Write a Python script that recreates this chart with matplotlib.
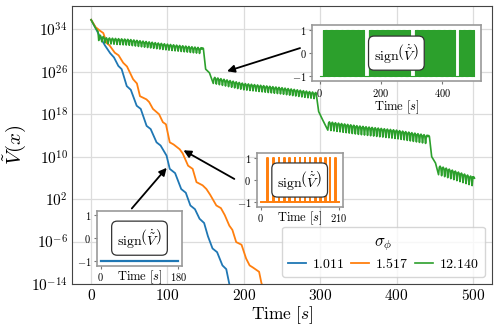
import numpy as np
import matplotlib
matplotlib.use("Agg")
import matplotlib.pyplot as plt
from matplotlib import ticker

plt.rcParams["mathtext.fontset"] = "cm"
plt.rcParams["font.family"] = "serif"

# --- data (log10 of V~) ---
blue_t = [0, 6, 12, 18, 25, 30, 35.7, 40, 46.7, 52, 59.7, 65, 72.7, 78, 85.7, 91,
          98.8, 103, 110, 118, 124, 130, 136, 142, 148, 153, 159, 165, 172, 177, 181, 184]
blue_logv = [35.8, 34.2, 32.5, 31.0, 29.5, 28.7, 27.1, 26.5, 23.3, 22.6, 19.6, 19.0, 15.8, 15.2, 12.7, 12.1,
             10.2, 7.7, 6.9, 3.9, 3.2, 0.8, 0.1, -1.7, -2.5, -5.0, -7.3, -8.0, -10.5, -11.2, -14.0, -15.0]

orange_t = [0, 6, 12, 16, 20.5, 24, 31, 36, 42, 47, 55, 60, 64, 72.5, 76, 81, 89, 94, 98,
            103, 108, 116, 120, 127, 133, 138, 146, 151, 156, 164, 170, 175, 181, 185, 190,
            197, 203, 207.6, 212, 220, 223, 226]
orange_logv = [35.8, 34.4, 33.7, 33.3, 31.4, 31.0, 29.6, 29.1, 27.7, 27.0, 24.6, 23.8, 21.4, 20.8, 20.3,
               19.0, 18.0, 16.5, 16.1, 12.7, 12.3, 11.4, 10.6, 8.3, 7.7, 5.2, 4.6, 3.9, 2.8, 0.8, 0.3,
               -1.0, -3.0, -3.8, -6.1, -6.6, -9.2, -10.5, -10.9, -11.7, -13.8, -15.0]

# upper envelope of the green curve
green_t = [0, 3, 6, 9, 10, 20, 50, 100, 146, 147, 150, 155, 160, 200, 250, 294,
           295, 298, 303, 310, 350, 400, 442, 443, 446, 451, 455, 500]
green_logv = [35.8, 35.0, 34.2, 33.6, 33.0, 32.4, 32.1, 31.2, 30.5, 30.4, 26.5, 25.8, 25.0, 23.8, 23.0, 22.1,
              21.9, 18.5, 17.0, 16.6, 15.8, 15.0, 14.0, 13.8, 10.0, 8.8, 8.3, 6.2]
# time windows where the green curve oscillates, and the depth of its dips
green_teeth = [(10, 146), (160, 294), (310, 442), (455, 500)]
green_depth = [1.1, 1.2, 1.6, 1.7]
tooth_period = 4.0

# times where sign(dV/dt) of the orange run turns positive
orange_pos_t = [19, 34.5, 50, 64.5, 78, 92, 105.8, 119.5, 133, 147, 160.7, 174.5, 187, 201.6]
blue_end, orange_end = 180, 210

sigma_labels = ["1.011", "1.517", "12.140"]
colors = ["#1f77b4", "#ff7f0e", "#2ca02c"]

# --- green curve with its dips ("mmm" shape) ---
pts = []
for (a, b), d in zip(green_teeth, green_depth):
    for t0 in np.arange(a, b, tooth_period):
        pts += [(t0, d), (t0 + 0.25 * tooth_period, 0.25), (t0 + 0.5 * tooth_period, 0.0),
                (t0 + 0.75 * tooth_period, 0.25)]
for t in green_t:
    if not any(a <= t < b for a, b in green_teeth):
        pts.append((t, 0.0))
pts.sort()
g_t = np.array([p[0] for p in pts])
g_v = np.interp(g_t, green_t, green_logv) - np.array([p[1] for p in pts])

fig = plt.figure(figsize=(4.99, 3.31), dpi=100)
ax = fig.add_axes([0.1443, 0.142, 0.8417, 0.8399])

ax.plot(blue_t, 10.0 ** np.array(blue_logv), color=colors[0], lw=1.3, label=r"$%s$" % sigma_labels[0])
ax.plot(orange_t, 10.0 ** np.array(orange_logv), color=colors[1], lw=1.3, label=r"$%s$" % sigma_labels[1])
ax.plot(g_t, 10.0 ** g_v, color=colors[2], lw=1.2, label=r"$%s$" % sigma_labels[2])

ax.set_yscale("log")
ax.set_xlim(-25, 525)
ax.set_ylim(1e-14, 10 ** 38.4)
ax.yaxis.set_major_locator(ticker.FixedLocator(10.0 ** np.arange(-14, 35, 8)))
ax.yaxis.set_minor_locator(ticker.NullLocator())
ax.yaxis.set_major_formatter(ticker.FuncFormatter(lambda v, p: r"$10^{%d}$" % round(np.log10(v))))
ax.xaxis.set_major_locator(ticker.MultipleLocator(100))
ax.xaxis.set_major_formatter(ticker.FuncFormatter(lambda v, p: r"$%d$" % v))
ax.tick_params(labelsize=11, length=0, pad=3)
ax.grid(True, color="#dcdcdc", lw=0.9)
ax.set_axisbelow(True)
for s in ax.spines.values():
    s.set_color("#444")
ax.set_xlabel(r"$\mathrm{Time}\ [s]$", fontsize=12.5, labelpad=1)
ax.set_ylabel(r"$\tilde{V}(x)$", fontsize=15)
ax.yaxis.set_label_coords(-0.105, 0.5)

leg = ax.legend(title=r"$\sigma_\phi$", ncol=3, loc="lower right", fontsize=10,
                title_fontsize=12, handlelength=1.3, columnspacing=0.5, handletextpad=0.4,
                borderpad=0.45, labelspacing=0.3, fancybox=True)

box_text = r"$\mathrm{sign}\left(\dot{\tilde{V}}\right)$"


def make_inset(rect, xmax, xticks, inline_label):
    ins = fig.add_axes(rect)
    ins.set_xlim(-0.05 * xmax, 1.05 * xmax)
    ins.set_ylim(-1.2, 1.2)
    ins.set_xticks(xticks)
    ins.set_yticks([-1, 0, 1])
    ins.xaxis.set_major_formatter(ticker.FuncFormatter(lambda v, p: r"$%d$" % v))
    ins.yaxis.set_major_formatter(ticker.FuncFormatter(lambda v, p: r"$%d$" % v))
    ins.tick_params(labelsize=7.5, length=2.5, pad=1.5, color="#777")
    for s in ins.spines.values():
        s.set_color("#999")
        s.set_linewidth(1.2)
    ins.set_xlabel(r"$\mathrm{Time}\ [s]$", fontsize=9, labelpad=0)
    if inline_label:
        ins.xaxis.set_label_coords(0.5, -0.05)
    ins.text(0.5, 0.5, box_text, transform=ins.transAxes, ha="center", va="center",
             fontsize=10, bbox=dict(boxstyle="round,pad=0.4", fc="white", ec="#333", lw=0.9))
    return ins


# green inset: sign of the slope of the green curve
ins_g = make_inset([0.625, 0.755, 0.3387, 0.169], 500, [0, 200, 400], False)
g_sign = np.sign(np.diff(g_v))
g_sign[g_sign == 0] = -1
ins_g.step(g_t[:-1], g_sign, where="post", color=colors[2], lw=0.8)

# orange inset
ins_o = make_inset([0.5144, 0.3755, 0.1723, 0.1613], orange_end, [0, orange_end], True)
ox, oy = [0], [-1]
for p in orange_pos_t:
    ox += [p - 0.7, p - 0.7, p + 0.7, p + 0.7]
    oy += [-1, 1, 1, -1]
ox.append(orange_end)
oy.append(-1)
ins_o.plot(ox, oy, color=colors[1], lw=1.4)

# blue inset
ins_b = make_inset([0.1938, 0.1973, 0.1715, 0.1662], blue_end, [0, blue_end], True)
ins_b.plot([0, blue_end], [-1, -1], color=colors[0], lw=1.6)

arrow = dict(arrowstyle="-|>", color="k", lw=1.3, mutation_scale=11, shrinkA=0, shrinkB=0)
ax.annotate("", xy=(178, 10 ** 26.1), xytext=(-0.07, 0.59), textcoords=ins_g.transAxes, arrowprops=arrow)
ax.annotate("", xy=(121, 10 ** 11.2), xytext=(-0.26, 0.52), textcoords=ins_o.transAxes, arrowprops=arrow)
ax.annotate("", xy=(99, 10 ** 7.9), xytext=(0.41, 1.04), textcoords=ins_b.transAxes, arrowprops=arrow)

fig.savefig("out.png", dpi=100)
